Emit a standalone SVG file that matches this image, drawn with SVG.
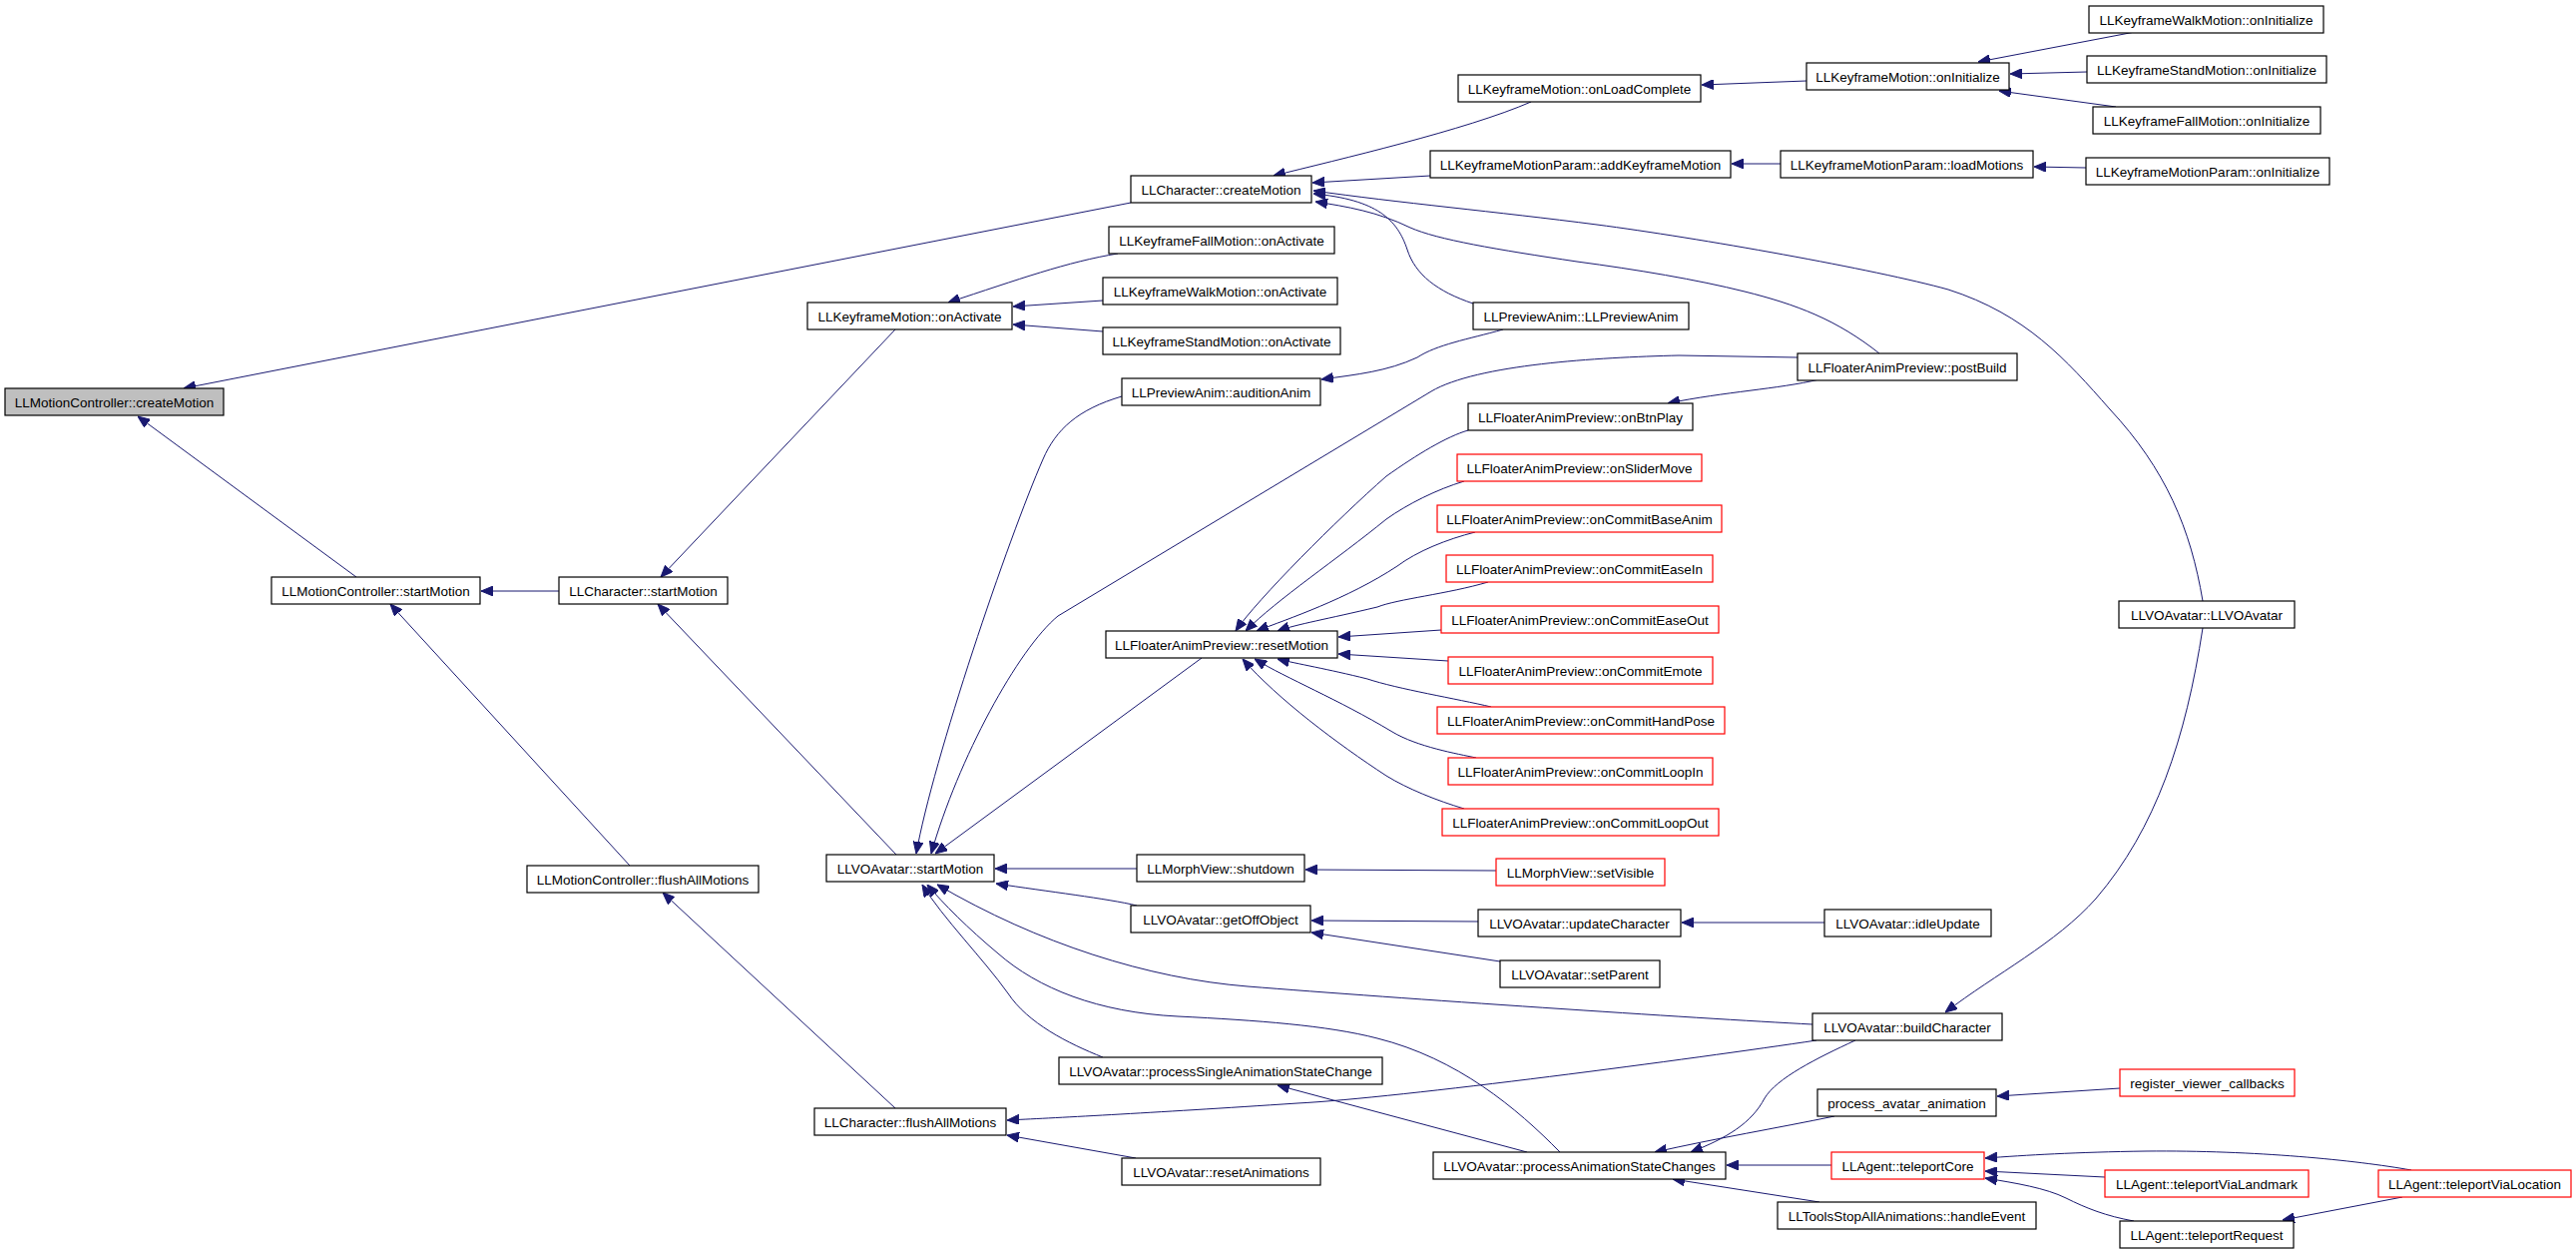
<svg xmlns="http://www.w3.org/2000/svg" width="2581" height="1255" viewBox="0 0 2581 1255">
<style>
.node rect{fill:#ffffff;stroke:#000000;stroke-width:1.2}
.node.root rect{fill:#bfbfbf}
.node.trunc rect{stroke:#ff0000}
.node text{font-family:"Liberation Sans",Arial,sans-serif;font-size:13.5px;fill:#000000;text-anchor:middle}
.edges path{fill:none;stroke:#191970;stroke-width:1;marker-end:url(#ah)}
</style>
<defs>
<marker id="ah" viewBox="0 0 12 10" refX="12" refY="5" markerWidth="12" markerHeight="10" markerUnits="userSpaceOnUse" orient="auto">
<path d="M0,0 L12,5 L0,10 z" fill="#191970" stroke="#191970" stroke-width="1"/>
</marker>
</defs>
<rect x="0" y="0" width="2581" height="1255" fill="#ffffff"/>
<g id="edges" class="edges">
<path d="M1133,203 L184,389"/>
<path d="M357,578 L138,417"/>
<path d="M560,592 L482,592"/>
<path d="M631,867 L391,605"/>
<path d="M897,330 L662,578"/>
<path d="M898,856 L659,605"/>
<path d="M897,1110 L664,894"/>
<path d="M1534,102 C1470,130 1340,160 1276,176"/>
<path d="M1433,176 L1315,183"/>
<path d="M1476,304 C1440,292 1418,275 1410,250 C1400,220 1380,200 1316,194"/>
<path d="M2207,602 C2195,530 2170,470 2114,410 C2070,360 2030,315 1952,290 C1880,270 1700,238 1600,225 C1500,212 1400,203 1316,191"/>
<path d="M1883,354 C1840,320 1800,305 1748,292 C1700,280 1640,270 1580,262 C1500,250 1440,240 1413,228 C1380,212 1350,207 1318,202"/>
<path d="M1120,254 C1070,262 1020,280 950,303"/>
<path d="M1105,301 L1015,307"/>
<path d="M1105,332 L1015,325"/>
<path d="M1506,330 C1470,340 1440,345 1420,358 C1390,372 1360,375 1324,380"/>
<path d="M1124,397 C1080,410 1058,430 1045,460 C1010,540 935,760 918,855"/>
<path d="M1801,358 L1682,356 C1600,358 1480,365 1434,392 L1060,617 C1020,650 960,760 933,855"/>
<path d="M1204,659 L937,855"/>
<path d="M1139,870 L997,870"/>
<path d="M1139,907 C1110,900 1050,893 998,885"/>
<path d="M1816,1026 C1700,1020 1400,1000 1250,988 C1150,980 1040,945 939,886"/>
<path d="M1563,1154 C1520,1110 1460,1060 1380,1040 C1330,1027 1260,1022 1180,1018 C1100,1014 1040,990 1000,955 C970,930 945,905 929,886"/>
<path d="M1105,1059 C1070,1045 1030,1025 1010,995 C985,960 945,920 924,886"/>
<path d="M2207,629 C2190,740 2160,830 2100,900 C2060,945 2000,975 1949,1014"/>
<path d="M1828,924 L1685,924"/>
<path d="M1481,923 L1314,922"/>
<path d="M1503,963 L1314,934"/>
<path d="M1499,872 L1308,871"/>
<path d="M1820,1042 C1700,1060 1400,1100 1300,1105 C1150,1115 1050,1120 1009,1122"/>
<path d="M1138,1160 L1009,1137"/>
<path d="M1530,1154 L1280,1087"/>
<path d="M1859,1042 C1820,1060 1780,1080 1768,1100 C1755,1125 1730,1140 1694,1154"/>
<path d="M1838,1118 C1780,1130 1720,1140 1658,1154"/>
<path d="M1835,1167 L1730,1167"/>
<path d="M1823,1204 L1676,1181"/>
<path d="M2124,1090 L2001,1098"/>
<path d="M2416,1172 C2360,1162 2260,1152 2150,1153 C2080,1154 2030,1157 1989,1160"/>
<path d="M2109,1179 L1989,1173"/>
<path d="M2138,1223 C2110,1218 2090,1210 2070,1200 C2050,1190 2020,1185 1989,1180"/>
<path d="M2407,1199 L2287,1222"/>
<path d="M1810,81 L1705,85"/>
<path d="M2139,32 L1982,62"/>
<path d="M2091,72 L2014,74"/>
<path d="M2120,107 L2003,91"/>
<path d="M1784,164 L1735,164"/>
<path d="M2090,168 L2038,167"/>
<path d="M1471,431 C1450,437 1420,455 1389,477 C1340,520 1260,600 1238,632"/>
<path d="M1823,380 C1780,390 1730,392 1671,404"/>
<path d="M1467,482 C1440,490 1410,505 1389,520 C1340,560 1280,600 1248,632"/>
<path d="M1478,533 C1450,540 1420,552 1400,567 C1350,600 1290,620 1259,632"/>
<path d="M1491,583 C1450,595 1400,600 1380,608 C1330,620 1300,625 1280,632"/>
<path d="M1444,631 L1341,638"/>
<path d="M1451,662 L1341,655"/>
<path d="M1494,708 C1460,700 1400,690 1370,680 C1330,670 1300,665 1280,660"/>
<path d="M1479,759 C1460,755 1420,748 1395,733 C1340,700 1290,680 1257,660"/>
<path d="M1467,810 C1440,802 1410,790 1389,777 C1340,745 1280,700 1245,660"/>
</g>
<g id="n1" class="node root"><rect x="5" y="389" width="219" height="27"/><text x="114.5" y="407.5">LLMotionController::createMotion</text></g>
<g id="n2" class="node"><rect x="272" y="578" width="209" height="27"/><text x="376.5" y="596.5">LLMotionController::startMotion</text></g>
<g id="n3" class="node"><rect x="560" y="578" width="169" height="27"/><text x="644.5" y="596.5">LLCharacter::startMotion</text></g>
<g id="n4" class="node"><rect x="528" y="867" width="232" height="27"/><text x="644" y="885.5">LLMotionController::flushAllMotions</text></g>
<g id="n5" class="node"><rect x="1133" y="176" width="181" height="27"/><text x="1223.5" y="194.5">LLCharacter::createMotion</text></g>
<g id="n6" class="node"><rect x="809" y="303" width="205" height="27"/><text x="911.5" y="321.5">LLKeyframeMotion::onActivate</text></g>
<g id="n7" class="node"><rect x="828" y="856" width="168" height="27"/><text x="912" y="874.5">LLVOAvatar::startMotion</text></g>
<g id="n8" class="node"><rect x="816" y="1110" width="192" height="27"/><text x="912" y="1128.5">LLCharacter::flushAllMotions</text></g>
<g id="n9" class="node"><rect x="1111" y="227" width="226" height="27"/><text x="1224" y="245.5">LLKeyframeFallMotion::onActivate</text></g>
<g id="n10" class="node"><rect x="1105" y="278" width="235" height="27"/><text x="1222.5" y="296.5">LLKeyframeWalkMotion::onActivate</text></g>
<g id="n11" class="node"><rect x="1105" y="328" width="238" height="27"/><text x="1224" y="346.5">LLKeyframeStandMotion::onActivate</text></g>
<g id="n12" class="node"><rect x="1124" y="379" width="199" height="27"/><text x="1223.5" y="397.5">LLPreviewAnim::auditionAnim</text></g>
<g id="n13" class="node"><rect x="1108" y="632" width="232" height="27"/><text x="1224" y="650.5">LLFloaterAnimPreview::resetMotion</text></g>
<g id="n14" class="node"><rect x="1139" y="856" width="168" height="27"/><text x="1223" y="874.5">LLMorphView::shutdown</text></g>
<g id="n15" class="node"><rect x="1133" y="907" width="180" height="27"/><text x="1223" y="925.5">LLVOAvatar::getOffObject</text></g>
<g id="n16" class="node"><rect x="1061" y="1059" width="324" height="27"/><text x="1223" y="1077.5">LLVOAvatar::processSingleAnimationStateChange</text></g>
<g id="n17" class="node"><rect x="1124" y="1160" width="199" height="27"/><text x="1223.5" y="1178.5">LLVOAvatar::resetAnimations</text></g>
<g id="n18" class="node"><rect x="1461" y="75" width="243" height="27"/><text x="1582.5" y="93.5">LLKeyframeMotion::onLoadComplete</text></g>
<g id="n19" class="node"><rect x="1433" y="151" width="301" height="27"/><text x="1583.5" y="169.5">LLKeyframeMotionParam::addKeyframeMotion</text></g>
<g id="n20" class="node"><rect x="1476" y="303" width="216" height="27"/><text x="1584" y="321.5">LLPreviewAnim::LLPreviewAnim</text></g>
<g id="n21" class="node"><rect x="1471" y="404" width="225" height="27"/><text x="1583.5" y="422.5">LLFloaterAnimPreview::onBtnPlay</text></g>
<g id="n22" class="node trunc"><rect x="1460" y="455" width="245" height="27"/><text x="1582.5" y="473.5">LLFloaterAnimPreview::onSliderMove</text></g>
<g id="n23" class="node trunc"><rect x="1440" y="506" width="285" height="27"/><text x="1582.5" y="524.5">LLFloaterAnimPreview::onCommitBaseAnim</text></g>
<g id="n24" class="node trunc"><rect x="1449" y="556" width="267" height="27"/><text x="1582.5" y="574.5">LLFloaterAnimPreview::onCommitEaseIn</text></g>
<g id="n25" class="node trunc"><rect x="1444" y="607" width="278" height="27"/><text x="1583" y="625.5">LLFloaterAnimPreview::onCommitEaseOut</text></g>
<g id="n26" class="node trunc"><rect x="1451" y="658" width="265" height="27"/><text x="1583.5" y="676.5">LLFloaterAnimPreview::onCommitEmote</text></g>
<g id="n27" class="node trunc"><rect x="1440" y="708" width="288" height="27"/><text x="1584" y="726.5">LLFloaterAnimPreview::onCommitHandPose</text></g>
<g id="n28" class="node trunc"><rect x="1451" y="759" width="265" height="27"/><text x="1583.5" y="777.5">LLFloaterAnimPreview::onCommitLoopIn</text></g>
<g id="n29" class="node trunc"><rect x="1445" y="810" width="277" height="27"/><text x="1583.5" y="828.5">LLFloaterAnimPreview::onCommitLoopOut</text></g>
<g id="n30" class="node trunc"><rect x="1499" y="860" width="169" height="27"/><text x="1583.5" y="878.5">LLMorphView::setVisible</text></g>
<g id="n31" class="node"><rect x="1481" y="911" width="203" height="27"/><text x="1582.5" y="929.5">LLVOAvatar::updateCharacter</text></g>
<g id="n32" class="node"><rect x="1503" y="962" width="160" height="27"/><text x="1583" y="980.5">LLVOAvatar::setParent</text></g>
<g id="n33" class="node"><rect x="1436" y="1154" width="293" height="27"/><text x="1582.5" y="1172.5">LLVOAvatar::processAnimationStateChanges</text></g>
<g id="n34" class="node"><rect x="1810" y="63" width="203" height="27"/><text x="1911.5" y="81.5">LLKeyframeMotion::onInitialize</text></g>
<g id="n35" class="node"><rect x="1784" y="151" width="253" height="27"/><text x="1910.5" y="169.5">LLKeyframeMotionParam::loadMotions</text></g>
<g id="n36" class="node"><rect x="1801" y="354" width="220" height="27"/><text x="1911" y="372.5">LLFloaterAnimPreview::postBuild</text></g>
<g id="n37" class="node"><rect x="1828" y="911" width="167" height="27"/><text x="1911.5" y="929.5">LLVOAvatar::idleUpdate</text></g>
<g id="n38" class="node"><rect x="1816" y="1015" width="190" height="27"/><text x="1911" y="1033.5">LLVOAvatar::buildCharacter</text></g>
<g id="n39" class="node"><rect x="1821" y="1091" width="179" height="27"/><text x="1910.5" y="1109.5">process_avatar_animation</text></g>
<g id="n40" class="node trunc"><rect x="1835" y="1154" width="153" height="27"/><text x="1911.5" y="1172.5">LLAgent::teleportCore</text></g>
<g id="n41" class="node"><rect x="1781" y="1204" width="259" height="27"/><text x="1910.5" y="1222.5">LLToolsStopAllAnimations::handleEvent</text></g>
<g id="n42" class="node"><rect x="2093" y="6" width="235" height="27"/><text x="2210.5" y="24.5">LLKeyframeWalkMotion::onInitialize</text></g>
<g id="n43" class="node"><rect x="2091" y="56" width="240" height="27"/><text x="2211" y="74.5">LLKeyframeStandMotion::onInitialize</text></g>
<g id="n44" class="node"><rect x="2097" y="107" width="228" height="27"/><text x="2211" y="125.5">LLKeyframeFallMotion::onInitialize</text></g>
<g id="n45" class="node"><rect x="2090" y="158" width="244" height="27"/><text x="2212" y="176.5">LLKeyframeMotionParam::onInitialize</text></g>
<g id="n46" class="node"><rect x="2123" y="602" width="176" height="27"/><text x="2211" y="620.5">LLVOAvatar::LLVOAvatar</text></g>
<g id="n47" class="node trunc"><rect x="2124" y="1071" width="175" height="27"/><text x="2211.5" y="1089.5">register_viewer_callbacks</text></g>
<g id="n48" class="node trunc"><rect x="2109" y="1172" width="204" height="27"/><text x="2211" y="1190.5">LLAgent::teleportViaLandmark</text></g>
<g id="n49" class="node"><rect x="2124" y="1223" width="174" height="27"/><text x="2211" y="1241.5">LLAgent::teleportRequest</text></g>
<g id="n50" class="node trunc"><rect x="2383" y="1172" width="193" height="27"/><text x="2479.5" y="1190.5">LLAgent::teleportViaLocation</text></g>
</svg>
